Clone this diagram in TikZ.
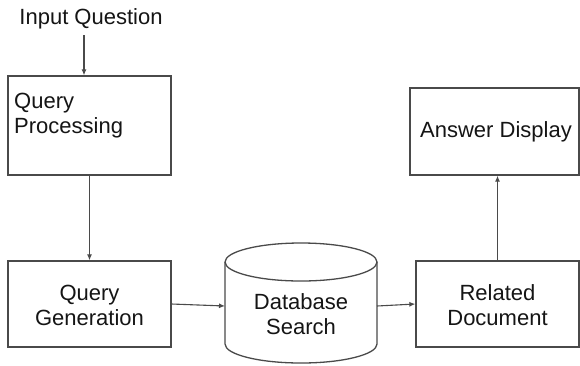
\documentclass[tikz,border=0pt]{standalone}
\usepackage{fontspec}
\setmainfont{Liberation Sans}
\usetikzlibrary{arrows.meta}
\definecolor{linec}{HTML}{4A4A4A}
\definecolor{textc}{HTML}{151515}
\tikzset{
  box/.style={draw=linec, line width=1.3pt, fill=white, inner sep=0pt},
  lbl/.style={font=\fontsize{22}{25}\selectfont, text=textc, align=center, inner sep=0pt},
  arr/.style={draw=linec, line width=1.1pt, -{Latex[length=6pt,width=5pt]}}
}
\begin{document}
\begin{tikzpicture}[x=1pt,y=-1pt]
\useasboundingbox[fill=white] (0,0) rectangle (580,365);
% Input question
\node[lbl] (inq) at (91,19) {Input Question};
% Query Processing
\node[box, minimum width=163pt, minimum height=99pt] (qp) at (89.5,125.5) {};
\node[lbl, align=left, anchor=north west] (qpt) at (14,93) {Query\\Processing};
% Query Generation
\node[box, minimum width=163pt, minimum height=86pt] (qg) at (89.5,304) {};
\node[lbl] (qgt) at (89.5,305) {Query\\Generation};
% Database cylinder
\draw[draw=linec, line width=1.3pt, fill=white] (225,262) -- (225,344) arc[start angle=180, end angle=0, x radius=76, y radius=19] -- (377,262);
\draw[draw=linec, line width=1.3pt, fill=white] (301,262) ellipse[x radius=76, y radius=19];
\node[lbl] (db) at (301,314) {Database\\Search};
\coordinate (dbL) at (225,306);
\coordinate (dbR) at (377,306);
% Related Document
\node[box, minimum width=163pt, minimum height=86pt] (rd) at (497.5,304) {};
\node[lbl] (rdt) at (497.5,305) {Related\\Document};
% Answer Display
\node[box, minimum width=169pt, minimum height=87pt] (ad) at (494.5,131.5) {};
\node[lbl] (adt) at (496,132) {Answer Display};
% Connectors
\draw[arr] ([xshift=-7pt,yshift=-6pt]inq.south) -- ([xshift=-5.5pt]qp.north);
\draw[arr] (qp.south) -- (qg.north);
\draw[arr] (qg.east) -- (dbL);
\draw[arr] (dbR) -- (rd.west);
\draw[arr] (rd.north) -- (rd.north |- ad.south);
\end{tikzpicture}
\end{document}
